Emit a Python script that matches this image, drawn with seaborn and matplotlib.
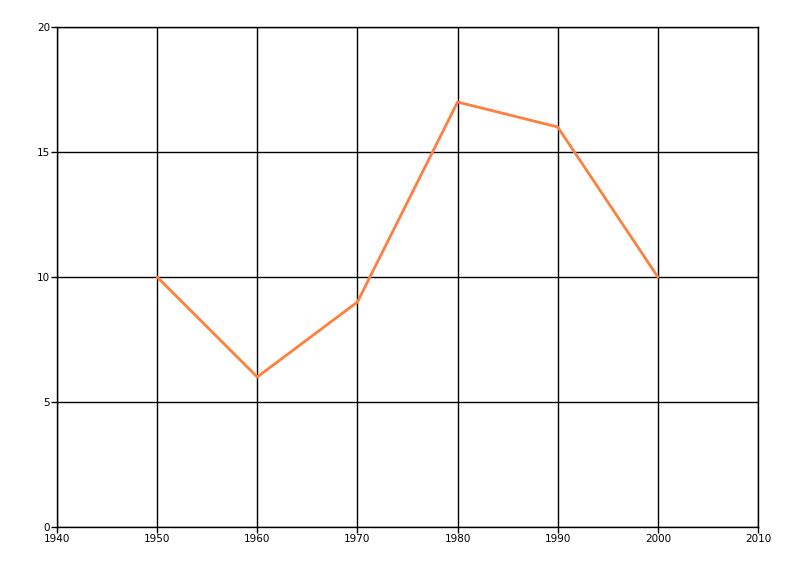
import matplotlib
matplotlib.use("Agg")
import matplotlib.pyplot as plt
import seaborn as sns
import pandas as pd

# data
years = [1950, 1960, 1970, 1980, 1990, 2000]
values = [10, 6, 9, 17, 16, 10]

x_ticks = [1940, 1950, 1960, 1970, 1980, 1990, 2000, 2010]
y_ticks = [0, 5, 10, 15, 20]

df = pd.DataFrame({"year": years, "value": values})

sns.set_style("white")
plt.rcParams["font.family"] = ["DejaVu Sans"]

fig = plt.figure(figsize=(8, 5.76), dpi=100)
ax = fig.add_axes([0.07125, 0.0851, 0.87625, 0.868])

sns.lineplot(data=df, x="year", y="value", ax=ax, color="#FF7F3F", linewidth=2)

ax.set_xlim(1940, 2010)
ax.set_ylim(0, 20)
ax.set_xticks(x_ticks)
ax.set_yticks(y_ticks)
ax.grid(True, color="black", linewidth=1)
ax.set_axisbelow(True)
for s in ax.spines.values():
    s.set_color("black")
    s.set_linewidth(1)
ax.tick_params(axis="both", direction="out", length=4, width=1, colors="black",
               labelsize=7.5, pad=1, bottom=True, left=True, top=False, right=False)
ax.set_xlabel("")
ax.set_ylabel("")

fig.savefig("out.png", dpi=100)
